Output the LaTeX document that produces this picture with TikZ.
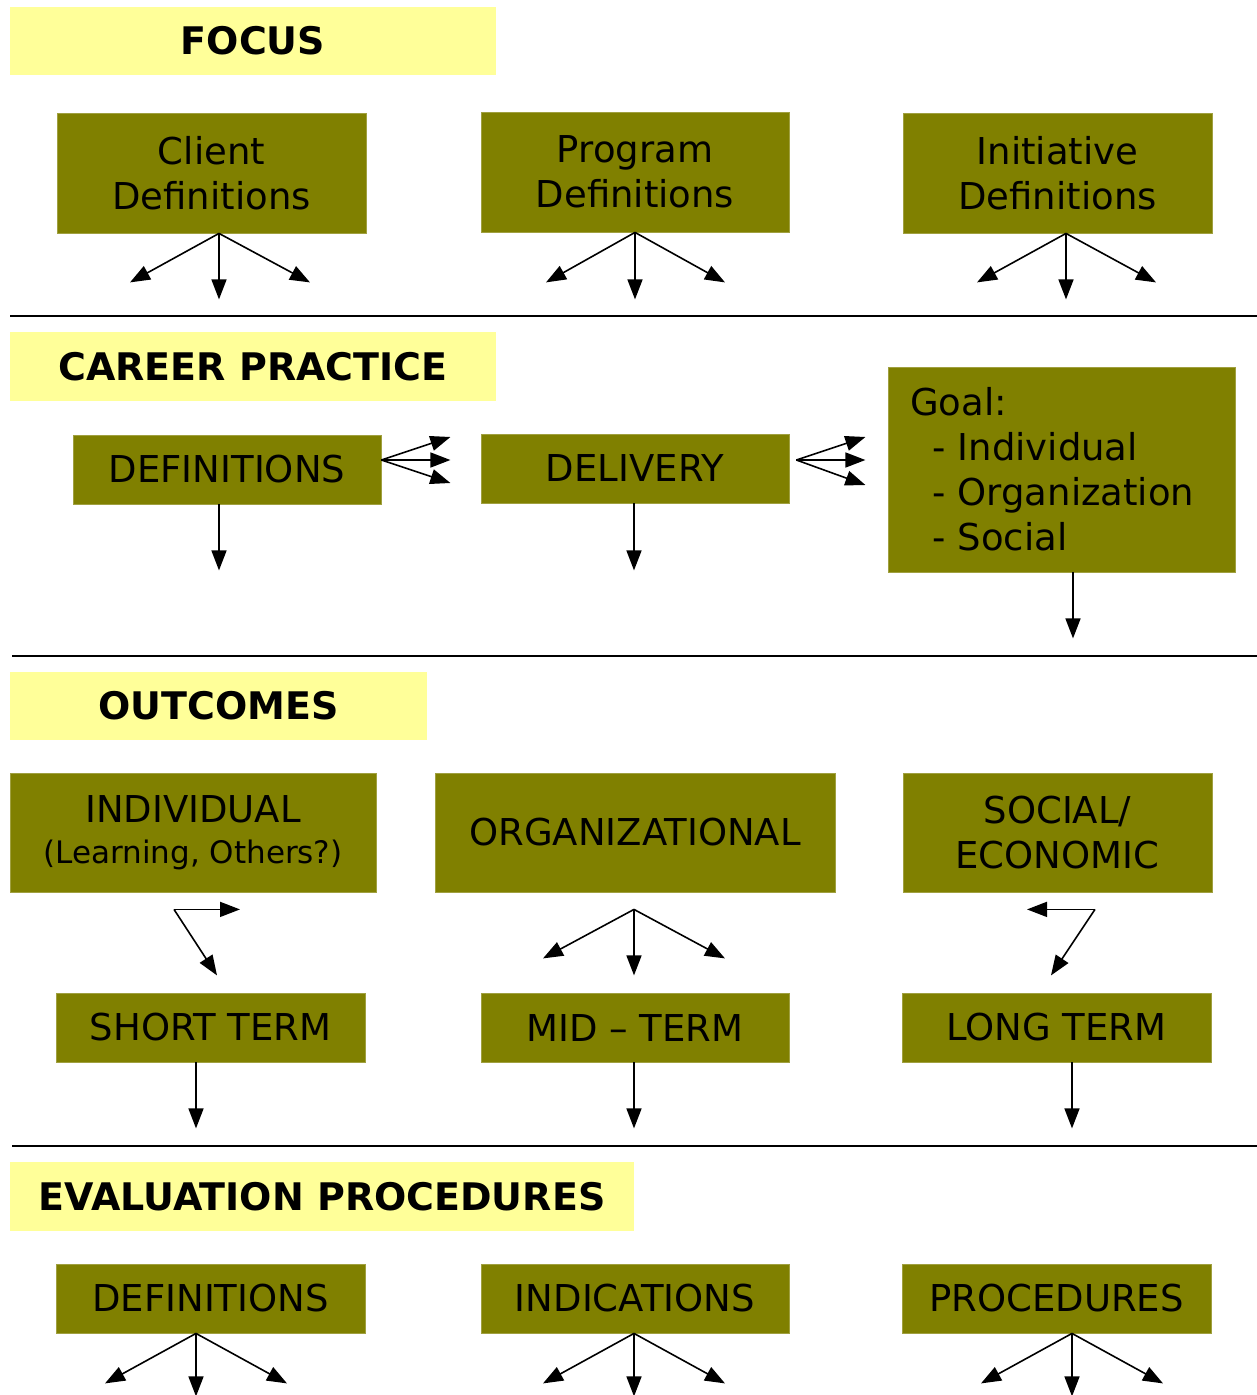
\documentclass[tikz,border=0pt]{standalone}
\usepackage{fontspec}
\setmainfont{DejaVu Sans}
\usetikzlibrary{arrows.meta}
\definecolor{boxolive}{RGB}{128,128,0}
\definecolor{banneryellow}{RGB}{255,255,153}
\begin{document}
\begin{tikzpicture}[x=1pt,y=-1pt,
  >={Triangle[length=20pt,width=15pt]},
  box/.style={fill=boxolive,draw=boxolive!75!white,line width=0.8pt,inner sep=0pt,
    align=center,font=\fontsize{37}{45}\selectfont},
  banner/.style={fill=banneryellow,inner sep=0pt,font=\fontsize{38}{45}\selectfont\bfseries},
  link/.style={->,line width=1.6pt},
  rule/.style={line width=1.8pt}]
\useasboundingbox (0,0) rectangle (1257,1395);

% Row 1: Focus
\node[banner,minimum width=486pt,minimum height=68pt] (focus) at (253,41) {FOCUS};
\node[box,minimum width=309pt,minimum height=120pt] (client) at (211.5,173) {Client\\Definitions};
\node[box,minimum width=308pt,minimum height=120pt] (program) at (635,172) {Program\\Definitions};
\node[box,minimum width=309pt,minimum height=120pt] (initiative) at (1057.5,173) {Initiative\\Definitions};
\draw[link] ([xshift=7.5pt]client.south) -- ++(-89,49);
\draw[link] ([xshift=7.5pt]client.south) -- ++(0,66);
\draw[link] ([xshift=7.5pt]client.south) -- ++(91,49);
\draw[link] (program.south) -- ++(-89,50);
\draw[link] (program.south) -- ++(0,67);
\draw[link] (program.south) -- ++(90,50);
\draw[link] ([xshift=8.5pt]initiative.south) -- ++(-89,49);
\draw[link] ([xshift=8.5pt]initiative.south) -- ++(0,66);
\draw[link] ([xshift=8.5pt]initiative.south) -- ++(90,49);
\draw[rule] (10,316) -- (1257,316);

% Row 2: Career practice
\node[banner,minimum width=486pt,minimum height=69pt] (career) at (253,366.5) {CAREER PRACTICE};
\node[box,minimum width=308pt,minimum height=69pt] (cpdefs) at (227,469.5) {DEFINITIONS};
\node[box,minimum width=308pt,minimum height=69pt] (delivery) at (635,468.5) {DELIVERY};
\node[box,minimum width=347pt,minimum height=205pt,text width=303pt,align=left] (goal) at (1061.5,469.5)
  {Goal:\\\hspace*{22pt}- Individual\\\hspace*{22pt}- Organization\\\hspace*{22pt}- Social};
\draw[link] ([yshift=9.5pt]cpdefs.east) -- ++(69,-23);
\draw[link] ([yshift=9.5pt]cpdefs.east) -- ++(69,0);
\draw[link] ([yshift=9.5pt]cpdefs.east) -- ++(69,23);
\draw[link] ([xshift=7pt,yshift=8.5pt]delivery.east) -- ++(69,-23);
\draw[link] ([xshift=7pt,yshift=8.5pt]delivery.east) -- ++(69,0);
\draw[link] ([xshift=7pt,yshift=8.5pt]delivery.east) -- ++(69,25);
\draw[link] ([xshift=-8pt]cpdefs.south) -- ++(0,66);
\draw[link] ([xshift=-1pt]delivery.south) -- ++(0,67);
\draw[link] ([xshift=11.5pt]goal.south) -- ++(0,66);
\draw[rule] (12,656) -- (1257,656);

% Row 3: Outcomes
\node[banner,minimum width=417pt,minimum height=68pt] (outcomes) at (218.5,706) {OUTCOMES};
\node[box,minimum width=366pt,minimum height=119pt] (individual) at (193,832.5)
  {INDIVIDUAL\\[-4pt]{\fontsize{31}{36}\selectfont(Learning, Others?)}};
\node[box,minimum width=400pt,minimum height=119pt] (organizational) at (635,832.5) {ORGANIZATIONAL};
\node[box,minimum width=309pt,minimum height=119pt] (social) at (1057.5,832.5) {SOCIAL/\\ECONOMIC};
\node[box,minimum width=309pt,minimum height=69pt] (short) at (210.5,1027.5) {SHORT TERM};
\node[box,minimum width=308pt,minimum height=69pt] (mid) at (635,1027.5) {MID -- TERM};
\node[box,minimum width=309pt,minimum height=69pt] (long) at (1056.5,1027.5) {LONG TERM};
\draw[link] ([xshift=-19pt,yshift=-17pt]individual.south) -- ++(66,0);
\draw[link] ([xshift=-19pt,yshift=-17pt]individual.south) -- ++(43,66);
\draw[link] ([xshift=-1pt,yshift=-17pt]organizational.south) -- ++(-91,49);
\draw[link] ([xshift=-1pt,yshift=-17pt]organizational.south) -- ++(0,66);
\draw[link] ([xshift=-1pt,yshift=-17pt]organizational.south) -- ++(91,49);
\draw[link] ([xshift=37.5pt,yshift=-17pt]social.south) -- ++(-68,0);
\draw[link] ([xshift=37.5pt,yshift=-17pt]social.south) -- ++(-44,66);
\draw[link] ([xshift=-14.5pt]short.south) -- ++(0,66);
\draw[link] ([xshift=-1pt]mid.south) -- ++(0,66);
\draw[link] ([xshift=15.5pt]long.south) -- ++(0,66);
\draw[rule] (12,1146) -- (1257,1146);

% Row 4: Evaluation procedures
\node[banner,minimum width=624pt,minimum height=69pt] (evaluation) at (322,1196.5) {EVALUATION PROCEDURES};
\node[box,minimum width=309pt,minimum height=69pt] (evdefs) at (210.5,1298.5) {DEFINITIONS};
\node[box,minimum width=308pt,minimum height=69pt] (indications) at (635,1298.5) {INDICATIONS};
\node[box,minimum width=309pt,minimum height=69pt] (procedures) at (1056.5,1298.5) {PROCEDURES};
\draw[link] ([xshift=-14.5pt]evdefs.south) -- ++(-91,50);
\draw[link] ([xshift=-14.5pt]evdefs.south) -- ++(0,63);
\draw[link] ([xshift=-14.5pt]evdefs.south) -- ++(91,50);
\draw[link] ([xshift=-1pt]indications.south) -- ++(-91,50);
\draw[link] ([xshift=-1pt]indications.south) -- ++(0,63);
\draw[link] ([xshift=-1pt]indications.south) -- ++(91,50);
\draw[link] ([xshift=15.5pt]procedures.south) -- ++(-91,50);
\draw[link] ([xshift=15.5pt]procedures.south) -- ++(0,63);
\draw[link] ([xshift=15.5pt]procedures.south) -- ++(91,50);

\end{tikzpicture}
\end{document}
